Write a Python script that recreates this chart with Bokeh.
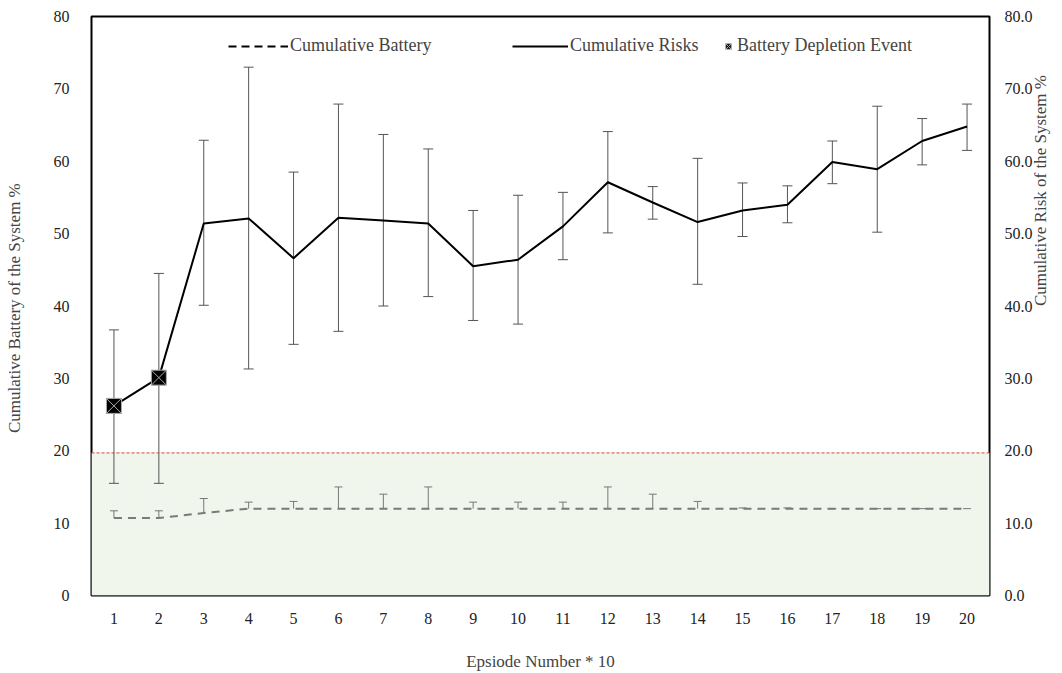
from bokeh.plotting import figure
from bokeh.models import (ColumnDataSource, LinearAxis, Range1d, FixedTicker, Whisker,
                          TeeHead, Legend, LegendItem, BoxAnnotation, Span, NumeralTickFormatter)
from bokeh.embed import file_html
from bokeh.resources import INLINE

episodes = list(range(1, 21))
risk = [26.2, 30.1, 51.4, 52.1, 46.6, 52.2, 51.8, 51.4, 45.5, 46.4,
        51.0, 57.1, 54.3, 51.6, 53.2, 54.0, 59.9, 58.9, 62.8, 64.8]
risk_upper = [36.7, 44.5, 62.9, 73.0, 58.5, 67.9, 63.7, 61.7, 53.2, 55.3,
              55.7, 64.1, 56.5, 60.4, 57.0, 56.6, 62.8, 67.6, 65.9, 67.9]
risk_lower = [15.5, 15.5, 40.1, 31.3, 34.7, 36.5, 40.0, 41.3, 38.0, 37.5,
              46.4, 50.1, 52.0, 43.0, 49.6, 51.5, 56.9, 50.2, 59.5, 61.5]
battery = [10.7, 10.7, 11.4, 12.0, 12.0, 12.0, 12.0, 12.0, 12.0, 12.0,
           12.0, 12.0, 12.0, 12.0, 12.0, 12.0, 12.0, 12.0, 12.0, 12.0]
battery_upper = [11.7, 11.7, 13.4, 12.9, 13.0, 15.0, 14.0, 15.0, 12.9, 12.9,
                 12.9, 15.0, 14.0, 13.0, 12.1, 12.1, 12.0, 12.0, 12.0, 12.0]
depletion_x = [1, 2]
depletion_y = [26.2, 30.1]
threshold = 19.7

FONT = "Liberation Serif"

p = figure(width=1062, height=673, x_range=Range1d(0.5, 20.5), y_range=Range1d(0, 80),
           output_backend="svg", toolbar_location=None,
           min_border_left=91, min_border_right=72, min_border_top=16, min_border_bottom=78)
p.grid.visible = False
p.outline_line_color = "black"
p.outline_line_width = 2
p.background_fill_color = "white"

p.add_layout(BoxAnnotation(bottom=0, top=threshold, fill_color="#f1f6ec", fill_alpha=1.0, level="underlay"))
p.add_layout(Span(location=threshold, dimension="width", line_color="#d9503f",
                  line_dash="3 2", line_width=1))

src_r = ColumnDataSource(dict(x=episodes, y=risk, up=risk_upper, lo=risk_lower))
src_b = ColumnDataSource(dict(x=episodes, y=battery, up=battery_upper))

p.add_layout(Whisker(source=src_r, base="x", upper="up", lower="lo", line_color="#555555",
                     line_width=1,
                     upper_head=TeeHead(size=10, line_color="#555555", line_width=1),
                     lower_head=TeeHead(size=10, line_color="#555555", line_width=1)))
p.add_layout(Whisker(source=src_b, base="x", upper="up", lower="y", line_color="#777777",
                     line_width=1,
                     upper_head=TeeHead(size=8, line_color="#777777", line_width=1),
                     lower_head=None))

p.line("x", "y", source=src_b, line_color="#7a7a7a", line_width=2, line_dash="8 6")
p.line("x", "y", source=src_r, line_color="black", line_width=2)
p.scatter(depletion_x, depletion_y, marker="square_x", size=15, fill_color="black",
          line_color="#aaaaaa", line_width=1)

# legend proxies
lb = p.line([float("nan")], [float("nan")], line_color="black", line_width=2, line_dash="8 5")
lr = p.line([float("nan")], [float("nan")], line_color="black", line_width=2)
lm = p.scatter([float("nan")], [float("nan")], marker="square_x", size=12,
               fill_color="black", line_color="#aaaaaa")

def mk_legend(label, r, x, gw):
    lg = Legend(items=[LegendItem(label=label, renderers=[r])],
                location=(x, 539), border_line_color=None, background_fill_alpha=0,
                label_text_font=FONT, label_text_font_size="18px",
                glyph_width=gw, label_standoff=2, padding=0, margin=0)
    p.add_layout(lg, "center")

mk_legend("Cumulative Battery", lb, 137, 60)
mk_legend("Cumulative Risks", lr, 421, 56)
mk_legend("Battery Depletion Event", lm, 630, 14)

# axes
p.xaxis.ticker = FixedTicker(ticks=episodes)
p.xaxis.axis_label = "Epsiode Number * 10"
for ax in [p.xaxis[0], p.yaxis[0]]:
    ax.axis_line_color = None
    ax.major_tick_line_color = None
    ax.minor_tick_line_color = None
    ax.major_label_text_font = FONT
    ax.major_label_text_font_size = "16px"
    ax.axis_label_text_font = FONT
    ax.axis_label_text_font_size = "17px"
    ax.axis_label_text_font_style = "normal"
    ax.major_label_text_color = "#222222"
p.xaxis.major_label_standoff = 11
p.xaxis.axis_label_standoff = 25
p.yaxis.ticker = FixedTicker(ticks=list(range(0, 90, 10)))
p.yaxis.axis_label = "Cumulative Battery of  the System %"
p.yaxis.major_label_standoff = 16
p.yaxis.axis_label_standoff = 27

p.extra_y_ranges = {"risk": Range1d(0, 80)}
ra = LinearAxis(y_range_name="risk", axis_label="Cumulative Risk of the System %",
                ticker=FixedTicker(ticks=list(range(0, 90, 10))),
                formatter=NumeralTickFormatter(format="0.0"))
ra.axis_line_color = None
ra.major_tick_line_color = None
ra.minor_tick_line_color = None
ra.major_label_text_font = FONT
ra.major_label_text_font_size = "16px"
ra.major_label_text_color = "#222222"
ra.axis_label_text_font = FONT
ra.axis_label_text_font_size = "17px"
ra.axis_label_text_font_style = "normal"
ra.axis_label_orientation = 1.5708
ra.major_label_standoff = 9
ra.axis_label_standoff = 5
p.add_layout(ra, "right")

open("out.html", "w").write(file_html(p, INLINE))
